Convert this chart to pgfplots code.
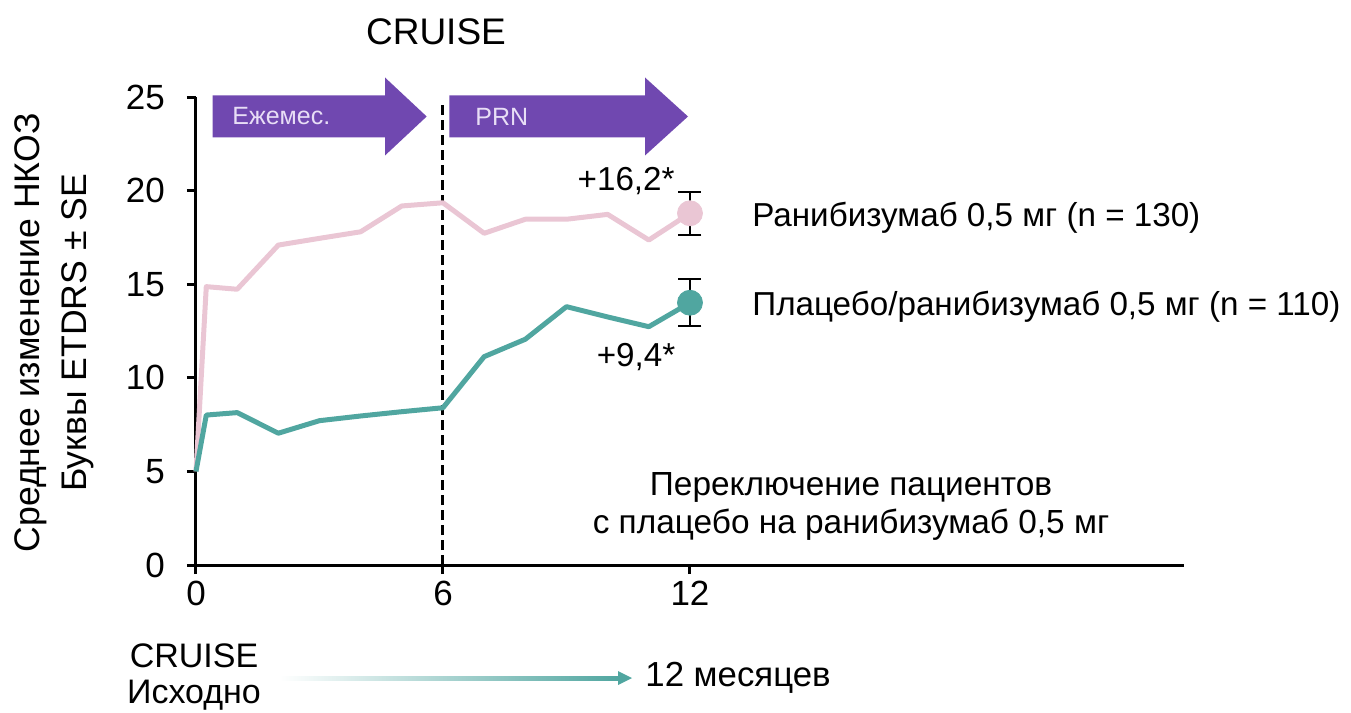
\documentclass[border=0pt]{standalone}
\usepackage{fontspec}
\setmainfont{Liberation Sans}
\usepackage{pgfplots}
\pgfplotsset{compat=1.18}
\definecolor{pinkc}{RGB}{234,198,212}
\definecolor{tealc}{RGB}{80,166,160}
\definecolor{purp}{RGB}{112,72,176}
\definecolor{lav}{RGB}{232,222,246}
\newcommand\fs{\fontsize{16.6}{19.9}\selectfont}
\begin{document}
\begin{tikzpicture}
\useasboundingbox (-98pt,-74pt) rectangle (577.5pt,282.5pt);
\begin{axis}[
  scale only axis, width=494pt, height=234pt,
  xmin=0, xmax=24, ymin=0, ymax=25,
  axis lines=left,
  axis line style={line width=1.5pt, -},
  xtick={0,6,12}, ytick={0,5,10,15,20,25},
  tick align=outside, major tick length=4.5pt,
  tick style={line width=1.5pt, black},
  tick label style={font=\fontsize{17.5}{21}\selectfont},
  yticklabel style={xshift=-7.5pt},
  /pgf/number format/assume math mode=true,
  every axis y label/.style={at={(axis description cs:-0.1437,0.496)}, rotate=90, anchor=center, align=center, font=\fontsize{17.8}{23.5}\selectfont},
  ylabel={Среднее изменение НКОЗ\\Буквы ETDRS ± SE},
  clip=false,
]
\draw[line width=1.5pt, dash pattern=on 5pt off 2.5pt] (axis cs:6,0) -- (axis cs:6,24.8);
\addplot[pinkc, line width=2.5pt, no markers, line join=round] coordinates {
 (0,5.0) (0.25,14.87) (1,14.73) (2,17.09) (3,17.45) (4,17.8) (5,19.18) (6,19.35)
 (7,17.72) (8,18.47) (9,18.47) (10,18.73) (11,17.36) (12,18.79)};
\addplot[tealc, line width=2.5pt, no markers, line join=round] coordinates {
 (0,5.0) (0.25,8.01) (1,8.14) (2,7.04) (3,7.71) (4,7.96) (5,8.19) (6,8.40)
 (7,11.13) (8,12.06) (9,13.8) (10,13.25) (11,12.73) (12,14.01)};
\addplot[only marks, mark=*, mark size=6.25pt, mark options={pinkc, draw=pinkc},
  error bars/.cd, y dir=both, y explicit,
  error bar style={black, line width=1pt},
  error mark options={black, line width=1pt, mark size=5.75pt, rotate=90}]
  coordinates {(12,18.79) +- (0,1.15)};
\addplot[only marks, mark=*, mark size=6.25pt, mark options={tealc, draw=tealc},
  error bars/.cd, y dir=both, y explicit,
  error bar style={black, line width=1pt},
  error mark options={black, line width=1pt, mark size=5.75pt, rotate=90}]
  coordinates {(12,14.01) +- (0,1.25)};
\end{axis}
% phase arrows
\fill[purp] (8.35pt,213.75pt) -- (94.5pt,213.75pt) -- (94.5pt,204.75pt) -- (115.35pt,224.25pt) -- (94.5pt,243.75pt) -- (94.5pt,234.75pt) -- (8.35pt,234.75pt) -- cycle;
\fill[purp] (126.65pt,213.75pt) -- (224.5pt,213.75pt) -- (224.5pt,204.75pt) -- (246pt,224.25pt) -- (224.5pt,243.75pt) -- (224.5pt,234.75pt) -- (126.65pt,234.75pt) -- cycle;
\node[anchor=west, inner sep=0pt, text=lav, font=\fontsize{12.5}{15}\selectfont] at (18pt,224.25pt) {Ежемес.};
\node[anchor=west, inner sep=0pt, text=lav, font=\fontsize{12.5}{15}\selectfont] at (139.5pt,224.25pt) {PRN};
% title
\node[font=\fontsize{18.5}{22}\selectfont, inner sep=0pt] at (120pt,266.5pt) {CRUISE};
% annotations
\node[anchor=east, inner sep=0pt, font=\fs] at (239.5pt,192pt) {+16,2*};
\node[inner sep=0pt, font=\fs] at (220pt,104pt) {+9,4*};
\node[anchor=west, inner sep=0pt, font=\fs] at (278pt,173.5pt) {Ранибизумаб 0,5 мг (n = 130)};
\node[anchor=west, inner sep=0pt, font=\fs] at (278pt,129pt) {Плацебо/ранибизумаб 0,5 мг (n = 110)};
\node[align=center, inner sep=0pt, font=\fontsize{16.7}{19}\selectfont] at (327.5pt,29.5pt) {Переключение пациентов\\с плацебо на ранибизумаб 0,5 мг};
% bottom timeline
\node[align=center, inner sep=0pt, font=\fontsize{17}{18}\selectfont] at (-1pt,-56pt) {CRUISE\\Исходно};
\shade[left color=white, right color=tealc] (42pt,-57.5pt) rectangle (212pt,-55.5pt);
\fill[tealc] (211pt,-60pt) -- (218pt,-56.5pt) -- (211pt,-53pt) -- cycle;
\node[anchor=west, inner sep=0pt, font=\fontsize{17.4}{20}\selectfont] at (224.5pt,-56.5pt) {12 месяцев};
\end{tikzpicture}
\end{document}
